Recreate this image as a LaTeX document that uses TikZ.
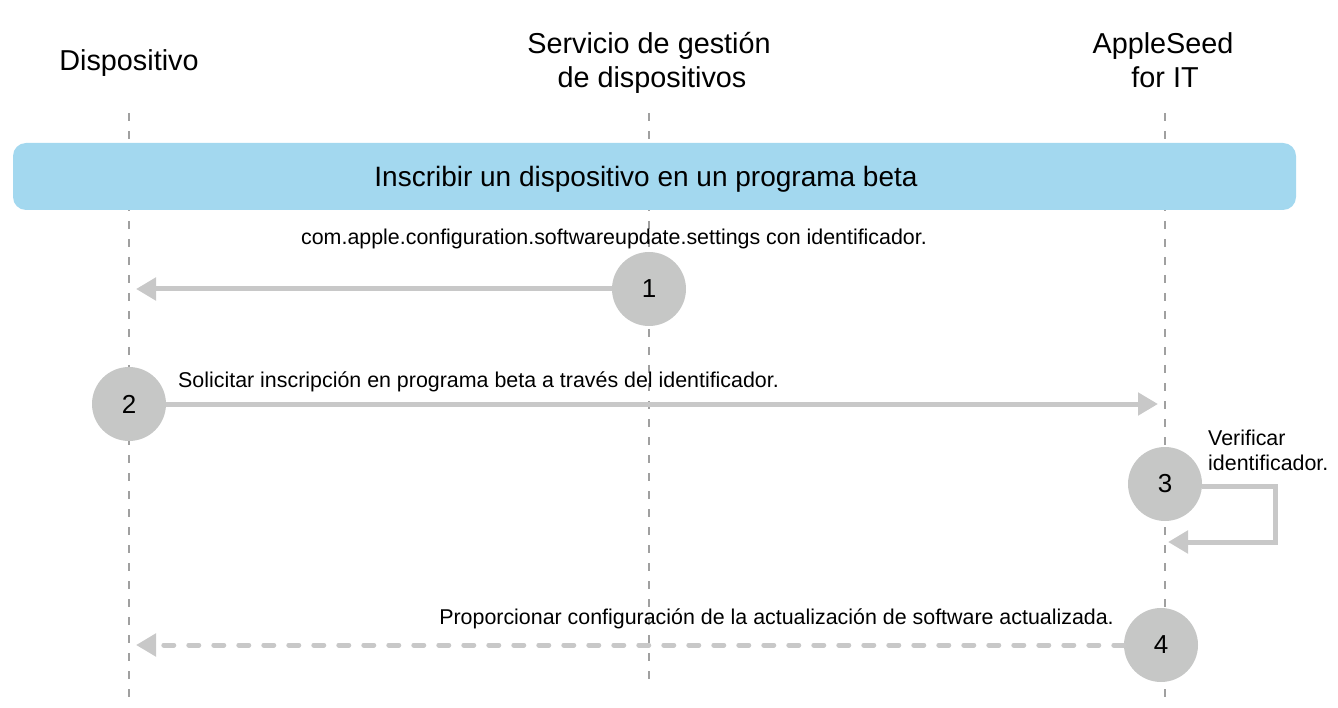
\documentclass[tikz,border=0pt]{standalone}
\usepackage{fontspec}
\setmainfont{Liberation Sans}
\usetikzlibrary{arrows.meta}
\definecolor{banner}{HTML}{A3D8EF}
\definecolor{bubble}{HTML}{C6C7C6}
\definecolor{arr}{HTML}{C8C8C8}
\definecolor{life}{HTML}{A0A0A0}
\tikzset{
  lifeline/.style={draw=life, line width=1.2pt, dash pattern=on 8pt off 10pt},
  bubble/.style={circle, fill=bubble, minimum size=74pt, inner sep=0pt, font=\fontsize{26}{30}\selectfont},
  msg/.style={draw=arr, line width=5pt, -{Triangle[length=20pt,width=22pt]}},
  dmsg/.style={msg, dash pattern=on 10pt off 15pt, line cap=round},
  lbl/.style={font=\fontsize{21.4}{25}\selectfont, inner sep=0pt},
  head/.style={font=\fontsize{28.8}{34}\selectfont, align=center, inner sep=0pt},
  btext/.style={font=\fontsize{28}{34}\selectfont, inner sep=0pt},
}
\begin{document}
\begin{tikzpicture}[x=1pt,y=-1pt]
\useasboundingbox (0,0) rectangle (1338,708);
% lifelines
\coordinate (d0) at (129,113); \coordinate (d1) at (129,697);
\coordinate (s0) at (649,113); \coordinate (s1) at (649,686);
\coordinate (a0) at (1165,113); \coordinate (a1) at (1165,697);
\draw[lifeline] (d0) -- (d1);
\draw[lifeline] (s0) -- (s1);
\draw[lifeline] (a0) -- (a1);
% headers
\node[head, anchor=base] (hd) at (129,71) {Dispositivo};
\node[head, anchor=base] (hs1) at (649,54) {Servicio de gestión};
\node[head, anchor=base] (hs2) at (652,88) {de dispositivos};
\node[head, anchor=base] (ha1) at (1163,54) {AppleSeed};
\node[head, anchor=base] (ha2) at (1165,88) {for IT};
% banner
\fill[banner, rounded corners=13pt] (13,143) rectangle (1296,210);
\node[btext, anchor=base] (bt) at (646,187) {Inscribir un dispositivo en un programa beta};
% bubbles
\node[bubble] (c1) at (649,289) {1};
\node[bubble] (c2) at (129,404) {2};
\node[bubble] (c3) at (1165,484) {3};
\node[bubble] (c4) at (1161,645) {4};
% end points
\coordinate (e1) at (136,289);
\coordinate (e2) at (1158,404);
\coordinate (k1) at (1275,486);
\coordinate (k2) at (1275,542);
\coordinate (e3) at (1168,542);
\coordinate (e4) at (136,645);
% messages
\draw[msg] (c1.west) -- (e1);
\draw[msg] (c2.east) -- (e2);
\draw[msg] (c3.east |- k1) -- (k1) -- (k2) -- (e3);
\draw[dmsg] (c4.west) -- (e4);
% labels
\node[lbl, anchor=base] (l1) at (614,245) {com.apple.configuration.softwareupdate.settings con identificador.};
\node[lbl, anchor=base west] (l2) at (178,387) {Solicitar inscripción en programa beta a través del identificador.};
\node[lbl, anchor=base west] (l3a) at (1208,445) {Verificar};
\node[lbl, anchor=base west] (l3b) at (1208,470) {identificador.};
\node[lbl, anchor=base east] (l4) at (1114,624) {Proporcionar configuración de la actualización de software actualizada.};
\end{tikzpicture}
\end{document}
